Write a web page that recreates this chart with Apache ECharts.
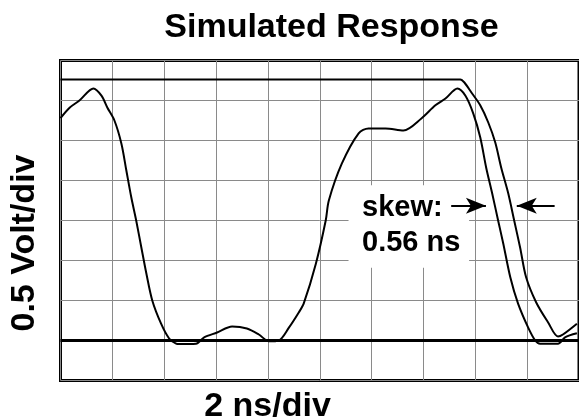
<!DOCTYPE html>
<html><head><meta charset="utf-8">
<script src="https://cdn.jsdelivr.net/npm/echarts@6/dist/echarts.min.js"></script>
<style>html,body{margin:0;padding:0;background:#fff}#c{width:579px;height:420px}</style>
</head><body><div id="c"></div>
<script>
// ---- data ----
const chartTitle = 'Simulated Response';
const xAxisName = '2 ns/div';
const yAxisName = '0.5 Volt/div';
const xRange = [0, 20];
const xStep = 2;
const yRange = [-0.5, 3.5];
const yStep = 0.5;
const baselineLevel = 0;
const skewLines = ['skew:', '0.56 ns'];

const traceATime = [0, 0.35, 0.73, 1.27, 1.58, 1.81, 2.08, 2.35, 2.54, 2.73, 2.92, 3.12, 3.31, 3.54, 3.88, 4.19, 4.46, 4.58, 5.23, 5.54, 6.04, 6.62, 7.19, 7.65, 8.04, 8.42, 8.81, 9.19, 9.38, 9.85, 10.23, 10.35, 10.85, 11.5, 11.88, 12.54, 13.23, 13.92, 14.46, 14.85, 15.31, 15.62, 15.92, 16.19, 16.42, 16.65, 16.88, 17.08, 17.35, 17.65, 18.04, 18.31, 18.5, 19.19, 19.46, 19.92];
const traceAVolt = [2.78, 2.91, 3.0, 3.15, 3.06, 2.91, 2.75, 2.46, 2.125, 1.79, 1.5, 1.16, 0.84, 0.5, 0.21, 0.025, -0.04, -0.045, -0.04, 0.04, 0.10, 0.175, 0.15, 0.075, -0.01, 0, 0.16, 0.35, 0.46, 0.96, 1.5, 1.75, 2.21, 2.59, 2.65, 2.65, 2.625, 2.775, 2.94, 3.025, 3.15, 3.06, 2.84, 2.54, 2.16, 1.84, 1.5, 1.21, 0.79, 0.46, 0.16, 0, -0.04, -0.04, 0.04, 0.09];

const traceBTime = [0, 15.42, 15.58, 15.85, 16.19, 16.5, 16.77, 17.0, 17.27, 17.5, 17.73, 17.96, 18.35, 18.81, 19.19, 19.38, 19.92];
const traceBVolt = [3.2625, 3.2625, 3.225, 3.1, 2.94, 2.725, 2.475, 2.16, 1.84, 1.5, 1.16, 0.79, 0.475, 0.225, 0.05, 0.075, 0.21];

// ---- build ----
const zip = (xs, ys) => xs.map((x, i) => [x, ys[i]]);
const FONT = '"Liberation Sans", Arial, Helvetica, sans-serif';
const chart = echarts.init(document.getElementById('c'), null, {renderer: 'canvas'});

const option = {
  animation: false,
  backgroundColor: '#fff',
  grid: {left: 60.5, top: 60.5, width: 521, height: 320, show: true, borderColor: '#000', borderWidth: 3, backgroundColor: 'transparent'},
  xAxis: {
    type: 'value', min: xRange[0], max: xRange[1], interval: xStep,
    axisLine: {show: false}, axisTick: {show: false}, axisLabel: {show: false},
    splitLine: {show: true, lineStyle: {color: '#8a8a8a', width: 1}}
  },
  yAxis: {
    type: 'value', min: yRange[0], max: yRange[1], interval: yStep,
    axisLine: {show: false}, axisTick: {show: false}, axisLabel: {show: false},
    splitLine: {show: true, lineStyle: {color: '#8a8a8a', width: 1}}
  },
  graphic: [
    {type: 'text', x: 331.5, y: 27.5,
     style: {text: chartTitle, font: 'bold 34px ' + FONT, fill: '#000', textAlign: 'center', textVerticalAlign: 'middle'}},
    {type: 'text', x: 25, y: 243, rotation: Math.PI / 2,
     style: {text: yAxisName, font: 'bold 34px ' + FONT, fill: '#000', textAlign: 'center', textVerticalAlign: 'middle'}},
    {type: 'text', x: 267.5, y: 406.5,
     style: {text: xAxisName, font: 'bold 34px ' + FONT, fill: '#000', textAlign: 'center', textVerticalAlign: 'middle'}},
    {type: 'text', x: 362, y: 208, z: 10,
     style: {text: skewLines[0], font: 'bold 29px ' + FONT, fill: '#000', textAlign: 'left', textVerticalAlign: 'middle'}},
    {type: 'text', x: 362, y: 243, z: 10,
     style: {text: skewLines[1], font: 'bold 29px ' + FONT, fill: '#000', textAlign: 'left', textVerticalAlign: 'middle'}}
  ],
  series: [
    {
      type: 'line', name: 'A', data: zip(traceATime, traceAVolt),
      smooth: 0.3, symbol: 'none', z: 5,
      lineStyle: {color: '#000', width: 2},
      markLine: {
        silent: true, symbol: 'none', animation: false,
        label: {show: false},
        lineStyle: {color: '#000', width: 3, type: 'solid'},
        data: [{yAxis: baselineLevel}]
      },
      markArea: {
        silent: true, itemStyle: {color: '#fff', opacity: 1},
        data: [[{coord: [11.11, 0.91]}, {coord: [15.76, 1.94]}]]
      }
    },
    {
      type: 'line', name: 'B', data: zip(traceBTime, traceBVolt),
      smooth: 0.3, symbol: 'none', z: 5,
      lineStyle: {color: '#000', width: 2},
      markLine: {
        silent: true, symbol: ['none', 'arrow'], symbolSize: [12, 20], animation: false,
        label: {show: false},
        lineStyle: {color: '#000', width: 2, type: 'solid'},
        data: [
          [{coord: [15.07, 1.684]}, {coord: [16.41, 1.684]}],
          [{coord: [19.06, 1.684]}, {coord: [17.60, 1.684]}]
        ]
      }
    }
  ]
};
chart.setOption(option);
</script>
</body></html>
